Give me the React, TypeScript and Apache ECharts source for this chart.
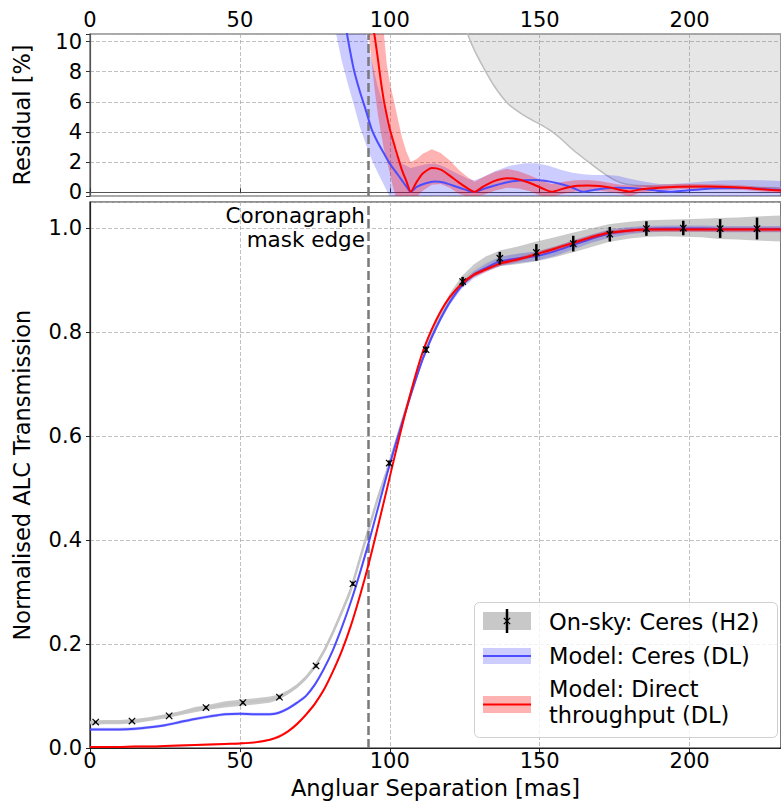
import React, { useEffect, useRef } from 'react';
import * as echarts from 'echarts';

const FONT = 'DejaVu Sans';

// ---------- Bottom panel: transmission curves ----------
const MAIN_X = [0, 5, 10, 15, 20, 25, 30, 35, 40, 45, 50, 55, 60, 63, 66, 69, 72, 75, 78, 81, 84, 87, 90, 93, 96, 99, 102, 105, 108, 111, 114, 117, 120, 124, 128, 132, 137, 143, 149, 155, 161, 167, 173, 180, 186, 192, 198, 204, 210, 216, 222, 231];
const ONSKY_FIT = [0.049, 0.050, 0.050, 0.052, 0.056, 0.061, 0.067, 0.074, 0.079, 0.084,
  0.087, 0.090, 0.093, 0.098, 0.107, 0.119, 0.135, 0.157, 0.186, 0.222,
  0.262, 0.305, 0.363, 0.422, 0.480, 0.532, 0.588, 0.645, 0.700, 0.752,
  0.795, 0.833, 0.865, 0.897, 0.918, 0.932, 0.942, 0.948, 0.955, 0.963,
  0.972, 0.981, 0.990, 0.996, 0.999, 1.000, 1.000, 1.000, 0.999, 0.999,
  0.999, 0.999];
const ONSKY_HW = [0.004, 0.004, 0.004, 0.004, 0.004, 0.004, 0.004, 0.005, 0.005, 0.006,
  0.006, 0.006, 0.006, 0.005, 0.004, 0.004, 0.004, 0.004, 0.004, 0.004,
  0.005, 0.005, 0.005, 0.005, 0.005, 0.005, 0.006, 0.006, 0.006, 0.007,
  0.007, 0.008, 0.009, 0.010, 0.012, 0.013, 0.015, 0.017, 0.019, 0.019,
  0.019, 0.018, 0.017, 0.016, 0.016, 0.016, 0.017, 0.018, 0.020, 0.021,
  0.023, 0.025];
const MODEL_CERES = [0.036, 0.036, 0.036, 0.037, 0.040, 0.044, 0.050, 0.056, 0.061, 0.065,
  0.066, 0.065, 0.065, 0.068, 0.076, 0.087, 0.100, 0.122, 0.152, 0.188,
  0.232, 0.281, 0.336, 0.396, 0.460, 0.525, 0.585, 0.642, 0.697, 0.748,
  0.790, 0.826, 0.857, 0.889, 0.910, 0.923, 0.936, 0.942, 0.946, 0.955,
  0.967, 0.979, 0.989, 0.995, 0.998, 0.999, 0.999, 0.999, 0.998, 0.998,
  0.998, 0.998];
const MODEL_CERES_HW = [0.003, 0.003, 0.003, 0.003, 0.003, 0.003, 0.003, 0.003, 0.003, 0.003,
  0.003, 0.003, 0.003, 0.003, 0.003, 0.003, 0.003, 0.003, 0.003, 0.003,
  0.003, 0.003, 0.003, 0.003, 0.004, 0.004, 0.004, 0.004, 0.004, 0.004,
  0.005, 0.005, 0.005, 0.006, 0.007, 0.008, 0.009, 0.009, 0.009, 0.009,
  0.009, 0.008, 0.008, 0.007, 0.006, 0.006, 0.006, 0.006, 0.006, 0.006,
  0.006, 0.006];
const MODEL_DIRECT = [0.002, 0.002, 0.002, 0.003, 0.003, 0.004, 0.005, 0.006, 0.007, 0.008,
  0.009, 0.011, 0.016, 0.022, 0.032, 0.046, 0.064, 0.085, 0.112, 0.147,
  0.187, 0.235, 0.292, 0.355, 0.425, 0.497, 0.570, 0.640, 0.705, 0.762,
  0.805, 0.840, 0.867, 0.893, 0.910, 0.920, 0.932, 0.940, 0.950, 0.960,
  0.971, 0.982, 0.991, 0.995, 0.997, 0.997, 0.997, 0.997, 0.997, 0.997,
  0.997, 0.997];
const MODEL_DIRECT_HW = [0.002, 0.002, 0.002, 0.002, 0.002, 0.002, 0.002, 0.002, 0.002, 0.002,
  0.002, 0.002, 0.002, 0.003, 0.003, 0.003, 0.003, 0.003, 0.003, 0.003,
  0.003, 0.003, 0.003, 0.003, 0.003, 0.003, 0.003, 0.003, 0.003, 0.003,
  0.003, 0.003, 0.003, 0.004, 0.004, 0.004, 0.004, 0.004, 0.004, 0.004,
  0.004, 0.004, 0.004, 0.004, 0.004, 0.004, 0.004, 0.004, 0.004, 0.004,
  0.004, 0.004];

// On-sky measurements (Ceres, H2)
const DATA_X = [1.9, 14.0, 26.4, 38.7, 51.0, 63.2, 75.4, 87.7, 99.8, 112.1, 124.3, 136.7, 148.9, 161.2, 173.4, 185.6, 197.9, 210.2, 222.5];
const DATA_Y = [0.050, 0.052, 0.062, 0.078, 0.0875, 0.098, 0.158, 0.316, 0.548, 0.766, 0.897, 0.942, 0.953, 0.970, 0.988, 0.999, 1.000, 0.999, 0.999];
const DATA_ERR = [0.002, 0.002, 0.002, 0.003, 0.003, 0.003, 0.003, 0.004, 0.005, 0.006, 0.009, 0.012, 0.016, 0.015, 0.014, 0.014, 0.014, 0.018, 0.021];

// ---------- Top panel: residuals [%] ----------
const RES_CERES_X = [80, 82, 84, 86, 88, 90, 92, 94, 96, 98, 100, 102, 104, 106, 107, 109, 112, 115, 118, 121, 124, 126, 128.3, 131, 135, 140, 145, 149, 153, 157, 161, 164.5, 168, 172, 176, 180, 185, 190, 194, 198, 204, 210, 218, 224, 231];
const RES_CERES = [19, 15.5, 12.6, 10.2, 8.15, 6.7, 5.45, 4.15, 3.3, 2.6, 1.9, 1.35, 0.8, 0.25, 0.02, 0.35, 0.6, 0.72, 0.65, 0.45, 0.25, 0.12, 0.02, 0.2, 0.45, 0.7, 0.8, 0.82, 0.72, 0.55, 0.3, 0.03, 0.15, 0.27, 0.3, 0.28, 0.2, 0.08, 0.03, 0.1, 0.2, 0.26, 0.28, 0.22, 0.14];
const RES_CERES_LO = [13.5, 10.6, 8.7, 7.2, 5.8, 4.35, 3.2, 2.15, 1.3, 0.5, -0.3, -0.3, -0.3, -0.3, -0.3, -0.3, -0.3, -0.3, -0.3, -0.3, -0.3, -0.3, -0.3, -0.3, -0.3, -0.3, -0.3, -0.3, -0.3, -0.3, -0.3, -0.3, -0.3, -0.3, -0.3, -0.3, -0.3, -0.3, -0.3, -0.3, -0.3, -0.3, -0.3, -0.3, -0.3];
const RES_CERES_HI = [27, 22, 18, 15, 13.8, 12.5, 10.6, 8.7, 7, 5.7, 4.2, 2.5, 1.9, 1.7, 1.6, 1.7, 1.85, 1.9, 1.7, 1.4, 1.1, 0.9, 0.8, 1.0, 1.4, 1.75, 1.93, 1.93, 1.75, 1.5, 1.3, 1.2, 1.15, 1.15, 1.1, 0.9, 0.7, 0.55, 0.55, 0.6, 0.7, 0.78, 0.82, 0.8, 0.75];

const RES_DIRECT_X = [91, 92, 93, 94, 95, 96, 97, 98, 99, 100, 101, 102, 103, 104, 105.5, 107, 109, 111, 114, 117, 120, 123, 126, 128.3, 131, 135, 139, 143, 147, 151, 154, 158, 162, 166, 170, 174, 177, 180, 184, 190, 196, 202, 210, 218, 224, 231];
const RES_DIRECT = [20, 17, 14.5, 11.6, 10.3, 8.9, 7.4, 6.1, 5.1, 4.2, 3.5, 2.8, 2.15, 1.5, 0.75, 0.02, 0.7, 1.25, 1.6, 1.5, 1.1, 0.65, 0.25, 0.02, 0.35, 0.75, 0.93, 0.85, 0.6, 0.25, 0.03, 0.25, 0.42, 0.45, 0.42, 0.3, 0.15, 0.05, 0.2, 0.3, 0.36, 0.38, 0.36, 0.3, 0.2, 0.1];
const RES_DIRECT_LO = [16, 13.5, 10.5, 8.5, 6.7, 5.2, 4.0, 2.9, 2.1, 1.3, 0.4, -0.3, -0.3, -0.3, -0.3, -0.3, -0.3, 0.1, 0.5, 0.55, 0.3, -0.1, -0.3, -0.3, -0.2, 0.1, 0.3, 0.25, 0.05, -0.3, -0.3, -0.1, 0.05, 0.1, 0.1, 0, -0.1, -0.3, 0, 0.1, 0.2, 0.22, 0.2, 0.15, 0.05, -0.05];
const RES_DIRECT_HI = [23, 20, 17, 14.5, 13, 12, 11.5, 10.6, 8.5, 7.3, 6.4, 5.5, 4.6, 3.7, 2.7, 2.0, 2.2, 2.55, 2.85, 2.6, 2.1, 1.5, 1.0, 0.7, 1.0, 1.35, 1.55, 1.4, 1.1, 0.75, 0.55, 0.7, 0.8, 0.82, 0.75, 0.6, 0.5, 0.45, 0.45, 0.5, 0.55, 0.55, 0.52, 0.45, 0.35, 0.28];

const RES_ONSKY_X = [124, 126, 128.3, 131.6, 135, 139.3, 142.5, 146, 150.2, 153.5, 156.8, 161.2, 166, 170, 172.5, 175, 177.6, 181, 185, 189, 195, 205, 215, 231];
const RES_ONSKY_EDGE = [12, 10.5, 9.4, 8.15, 7.0, 5.9, 5.4, 4.95, 4.5, 4.1, 3.6, 2.8, 2.05, 1.45, 1.1, 0.8, 0.6, 0.48, 0.42, 0.38, 0.36, 0.34, 0.32, 0.3];
const RES_FILL_CEILING = 12;

const MASK_EDGE = 92.7;

// ---------- Styles ----------
const BLUE_LINE = '#4d4dff';
const BLUE_BAND = 'rgba(0,0,255,0.2)';
const RED_LINE = '#ff0000';
const RED_BAND = 'rgba(255,0,0,0.3)';
const GRAY_BAND = 'rgba(150,150,150,0.5)';
const GRAY_LINE = '#c4c4c4';

function bandSeries(axis: number, xs: number[], lo: number[], hi: number[], color: string, z: number) {
  return {
    type: 'custom',
    xAxisIndex: axis,
    yAxisIndex: axis,
    clip: true,
    silent: true,
    z,
    data: xs.map((x, i) => [x, lo[i], hi[i]]),
    encode: { x: 0, y: [1, 2] },
    renderItem: (params: any, api: any) => {
      if (params.dataIndex !== 0) return null;
      const pts: number[][] = [];
      for (let i = 0; i < xs.length; i++) pts.push(api.coord([xs[i], hi[i]]));
      for (let i = xs.length - 1; i >= 0; i--) pts.push(api.coord([xs[i], lo[i]]));
      return { type: 'polygon', shape: { points: pts }, style: { fill: color } };
    },
  };
}

function lineSeries(axis: number, xs: number[], ys: number[], color: string, width: number, z: number, smooth = 0.3, extra: any = {}) {
  return {
    type: 'line',
    xAxisIndex: axis,
    yAxisIndex: axis,
    data: xs.map((x, i) => [x, ys[i]]),
    showSymbol: false,
    symbol: 'none',
    smooth,
    clip: true,
    silent: true,
    z,
    lineStyle: { color, width },
    ...extra,
  };
}

const maskLine = {
  symbol: ['none', 'none'],
  silent: true,
  label: { show: false },
  lineStyle: { type: [9, 4], color: '#7a7a7a', width: 2.5 },
  data: [{ xAxis: MASK_EDGE }],
};

function buildOption() {
  const tickFont = { fontFamily: FONT, fontSize: 21, color: '#000' };
  const nameFont = { fontFamily: FONT, fontSize: 22.5, color: '#000' };
  const splitLine = { show: true, lineStyle: { type: [4, 2], color: '#b0b0b0', width: 0.8 } };
  const xFmt = (v: number) => (Math.abs(v % 50) < 1e-6 ? String(Math.round(v)) : '');

  const lo = (c: number[], h: number[]) => c.map((v, i) => v - h[i]);
  const hi = (c: number[], h: number[]) => c.map((v, i) => v + h[i]);

  const legendFont = `22.5px "${FONT}"`;
  const lz = 100;
  const graphic: any[] = [
    {
      type: 'text', z: lz, x: 365, y: 203,
      style: { text: 'Coronagraph\nmask edge', font: `21.5px "${FONT}"`, fill: '#000', align: 'right', verticalAlign: 'top', lineHeight: 24 },
    },
    { type: 'rect', z: lz, shape: { x: 474.5, y: 602.5, width: 303, height: 135, r: 5 }, style: { fill: 'rgba(255,255,255,0.8)', stroke: '#d0d0d0', lineWidth: 1 } },
    { type: 'rect', z: lz, shape: { x: 483, y: 612, width: 48, height: 18 }, style: { fill: '#c8c8c8' } },
    { type: 'line', z: lz, shape: { x1: 507, y1: 609, x2: 507, y2: 633 }, style: { stroke: '#000', lineWidth: 2.5 } },
    { type: 'line', z: lz, shape: { x1: 503.8, y1: 617.8, x2: 510.2, y2: 624.2 }, style: { stroke: '#000', lineWidth: 1.2 } },
    { type: 'line', z: lz, shape: { x1: 503.8, y1: 624.2, x2: 510.2, y2: 617.8 }, style: { stroke: '#000', lineWidth: 1.2 } },
    { type: 'rect', z: lz, shape: { x: 483, y: 648, width: 48, height: 16 }, style: { fill: BLUE_BAND } },
    { type: 'line', z: lz, shape: { x1: 483, y1: 656, x2: 531, y2: 656 }, style: { stroke: BLUE_LINE, lineWidth: 2 } },
    { type: 'rect', z: lz, shape: { x: 483, y: 696, width: 48, height: 17 }, style: { fill: RED_BAND } },
    { type: 'line', z: lz, shape: { x1: 483, y1: 704.5, x2: 531, y2: 704.5 }, style: { stroke: RED_LINE, lineWidth: 2 } },
    { type: 'text', z: lz, x: 549, y: 621.5, style: { text: 'On-sky: Ceres (H2)', font: legendFont, fill: '#000', align: 'left', verticalAlign: 'middle' } },
    { type: 'text', z: lz, x: 549, y: 655.5, style: { text: 'Model: Ceres (DL)', font: legendFont, fill: '#000', align: 'left', verticalAlign: 'middle' } },
    { type: 'text', z: lz, x: 549, y: 702, style: { text: 'Model: Direct\nthroughput (DL)', font: legendFont, fill: '#000', align: 'left', verticalAlign: 'middle', lineHeight: 25.7 } },
  ];

  return {
    animation: false,
    backgroundColor: '#ffffff',
    textStyle: { fontFamily: FONT },
    grid: [
      { left: 90, top: 34, width: 701, height: 162, show: true, borderColor: '#555', borderWidth: 1.2 },
      { left: 90, top: 202, width: 701, height: 547, show: true, borderColor: '#222', borderWidth: 1.2 },
    ],
    xAxis: [
      {
        gridIndex: 0, type: 'value', position: 'top', min: 0, max: 230.5, interval: 50,
        axisLine: { show: true, lineStyle: { color: '#555', width: 1.2 } },
        axisTick: { show: true, length: 4, lineStyle: { color: '#333', width: 1 } },
        axisLabel: { ...tickFont, margin: 4, formatter: xFmt, showMaxLabel: false },
        splitLine,
      },
      {
        gridIndex: 1, type: 'value', position: 'bottom', min: 0, max: 230.5, interval: 50,
        name: 'Angluar Separation [mas]', nameLocation: 'middle', nameGap: 22, nameTextStyle: nameFont,
        axisLine: { show: true, lineStyle: { color: '#222', width: 1.2 } },
        axisTick: { show: true, length: 4, lineStyle: { color: '#222', width: 1 } },
        axisLabel: { ...tickFont, margin: 2, formatter: xFmt, showMaxLabel: false },
        splitLine,
      },
    ],
    yAxis: [
      {
        gridIndex: 0, type: 'value', min: -0.25, max: 10.5, splitNumber: 5,
        name: 'Residual [%]', nameLocation: 'middle', nameGap: 57, nameTextStyle: nameFont,
        axisLine: { show: true, lineStyle: { color: '#555', width: 1.2 } },
        axisTick: { show: true, length: 4, lineStyle: { color: '#333', width: 1 } },
        axisLabel: {
          ...tickFont, margin: 8,
          formatter: (v: number) => (Math.abs(v - Math.round(v)) < 1e-6 && Math.round(v) % 2 === 0 ? String(Math.round(v)) : ''),
        },
        splitLine,
      },
      {
        gridIndex: 1, type: 'value', min: 0, max: 1.05, interval: 0.2,
        name: 'Normalised ALC Transmission', nameLocation: 'middle', nameGap: 57, nameTextStyle: nameFont,
        axisLine: { show: true, lineStyle: { color: '#222', width: 1.2 } },
        axisTick: { show: true, length: 4, lineStyle: { color: '#222', width: 1 } },
        axisLabel: {
          ...tickFont, margin: 8, showMaxLabel: false,
          formatter: (v: number) => { const k = Math.round(v * 5); return Math.abs(v * 5 - k) < 1e-6 ? (k / 5).toFixed(1) : ''; },
        },
        splitLine,
      },
    ],
    series: [
      // residual panel
      bandSeries(0, RES_ONSKY_X, RES_ONSKY_EDGE, RES_ONSKY_X.map(() => RES_FILL_CEILING), 'rgba(128,128,128,0.2)', 2),
      lineSeries(0, RES_ONSKY_X, RES_ONSKY_EDGE, '#bdbdbd', 1.5, 3, 0.3, { markLine: maskLine }),
      bandSeries(0, RES_CERES_X, RES_CERES_LO, RES_CERES_HI, BLUE_BAND, 4),
      bandSeries(0, RES_DIRECT_X, RES_DIRECT_LO, RES_DIRECT_HI, RED_BAND, 5),
      lineSeries(0, RES_CERES_X, RES_CERES, BLUE_LINE, 2, 6, 0.2),
      lineSeries(0, RES_DIRECT_X, RES_DIRECT, RED_LINE, 2, 7, 0.2),
      // transmission panel
      bandSeries(1, MAIN_X, lo(ONSKY_FIT, ONSKY_HW), hi(ONSKY_FIT, ONSKY_HW), GRAY_BAND, 2),
      lineSeries(1, MAIN_X, ONSKY_FIT, GRAY_LINE, 2.5, 3, 0.3, { markLine: maskLine }),
      bandSeries(1, MAIN_X, lo(MODEL_CERES, MODEL_CERES_HW), hi(MODEL_CERES, MODEL_CERES_HW), BLUE_BAND, 4),
      lineSeries(1, MAIN_X, MODEL_CERES, BLUE_LINE, 2, 5),
      bandSeries(1, MAIN_X, lo(MODEL_DIRECT, MODEL_DIRECT_HW), hi(MODEL_DIRECT, MODEL_DIRECT_HW), RED_BAND, 6),
      lineSeries(1, MAIN_X, MODEL_DIRECT, RED_LINE, 2, 7),
      {
        type: 'custom', xAxisIndex: 1, yAxisIndex: 1, z: 9, silent: true, clip: false,
        data: DATA_X.map((x, i) => [x, DATA_Y[i], DATA_ERR[i]]),
        encode: { x: 0, y: 1 },
        renderItem: (_params: any, api: any) => {
          const x = api.value(0), y = api.value(1), e = api.value(2);
          const c = api.coord([x, y]);
          const a = api.coord([x, y - e]);
          const b = api.coord([x, y + e]);
          const s = 3.2;
          return {
            type: 'group',
            children: [
              { type: 'line', shape: { x1: a[0], y1: a[1], x2: b[0], y2: b[1] }, style: { stroke: '#000', lineWidth: 2.5 } },
              { type: 'line', shape: { x1: c[0] - s, y1: c[1] - s, x2: c[0] + s, y2: c[1] + s }, style: { stroke: '#000', lineWidth: 1.2 } },
              { type: 'line', shape: { x1: c[0] - s, y1: c[1] + s, x2: c[0] + s, y2: c[1] - s }, style: { stroke: '#000', lineWidth: 1.2 } },
            ],
          };
        },
      },
    ],
    graphic,
  };
}

export default function App() {
  const ref = useRef<HTMLDivElement>(null);
  useEffect(() => {
    if (!ref.current) return;
    const chart = echarts.init(ref.current, undefined, { renderer: 'svg' });
    chart.setOption(buildOption() as any);
    return () => chart.dispose();
  }, []);
  return (
    <div
      ref={ref}
      style={{ position: 'fixed', left: 0, top: 0, width: 781, height: 804, background: '#fff' }}
    />
  );
}
